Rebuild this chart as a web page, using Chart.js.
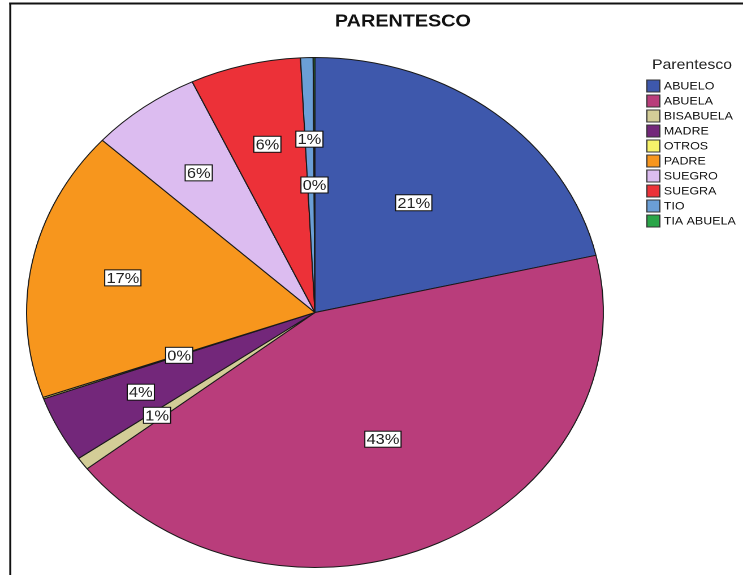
<!DOCTYPE html>
<html><head><meta charset="utf-8">
<script src="https://cdn.jsdelivr.net/npm/chart.js@4.4.1/dist/chart.umd.min.js"></script>
<style>
html,body{margin:0;padding:0;background:#fff;overflow:hidden}
#wrap{position:absolute;left:0;top:0;width:657px;height:575px;transform:scaleX(1.1309);transform-origin:0 0}
</style></head><body>
<div id="wrap"><canvas id="c" width="657" height="575"></canvas></div>
<script>
const chartTitle = 'PARENTESCO';
const legendTitle = 'Parentesco';
const categories = ['ABUELO','ABUELA','BISABUELA','MADRE','OTROS','PADRE','SUEGRO','SUEGRA','TIO','TIA ABUELA'];
const values = [21.4, 43.1, 0.8, 4.2, 0.1, 17.2, 6.2, 6.2, 0.7, 0.1];
const colors = ['#3e58ac','#b93d7b','#d3cd97','#73277a','#f8f36a','#f7961d','#dcbcf0','#ec3138','#6b9fd6','#2aa548'];

const FONT = '"Liberation Sans", Arial, Helvetica, sans-serif';

const overlay = {
  id: 'overlay',
  afterDraw(chart) {
    const ctx = chart.ctx;
    const meta = chart.getDatasetMeta(0);
    const total = values.reduce((a, b) => a + b, 0);
    ctx.save();
    // frame
    ctx.fillStyle = '#111';
    ctx.fillRect(8.2, 2.5, 1.8, chart.height);
    ctx.fillRect(8.2, 2.5, chart.width, 2);
    // title
    ctx.font = 'bold 17.5px ' + FONT;
    ctx.textAlign = 'center';
    ctx.textBaseline = 'middle';
    ctx.fillStyle = '#111';
    ctx.fillText(chartTitle, 356.3, 21.5);
    // slice labels
    ctx.font = '14.5px ' + FONT;
    meta.data.forEach((arc, i) => {
      const pct = values[i] / total * 100;
      const f = pct < 0.5 ? 0.5 : (pct >= 20 ? 0.55 : 0.68);
      const mid = (arc.startAngle + arc.endAngle) / 2;
      const x = arc.x + Math.cos(mid) * arc.outerRadius * f;
      const y = arc.y + Math.sin(mid) * arc.outerRadius * f;
      const t = Math.round(pct) + '%';
      const w = ctx.measureText(t).width + 3;
      const h = 16;
      ctx.fillStyle = '#fff';
      ctx.fillRect(x - w / 2, y - h / 2, w, h);
      ctx.strokeStyle = '#111';
      ctx.lineWidth = 1;
      ctx.strokeRect(x - w / 2, y - h / 2, w, h);
      ctx.fillStyle = '#222';
      ctx.fillText(t, x, y + 1);
    });
    // legend
    ctx.textAlign = 'left';
    ctx.font = '14px ' + FONT;
    ctx.fillStyle = '#222';
    ctx.fillText(legendTitle, 576.5, 65);
    ctx.font = '11px ' + FONT;
    categories.forEach((c, i) => {
      const yc = 86 + 15 * i;
      ctx.fillStyle = colors[i];
      ctx.fillRect(572, yc - 6, 11.5, 12);
      ctx.strokeStyle = '#333';
      ctx.lineWidth = 1;
      ctx.strokeRect(572, yc - 6, 11.5, 12);
      ctx.fillStyle = '#111';
      ctx.fillText(c, 587, yc + 0.5);
    });
    ctx.restore();
  }
};

new Chart(document.getElementById('c'), {
  type: 'pie',
  data: {
    labels: categories,
    datasets: [{
      data: values,
      backgroundColor: colors,
      borderColor: '#1a1a1a',
      borderWidth: 1
    }]
  },
  options: {
    responsive: false,
    devicePixelRatio: 2,
    animation: false,
    layout: { padding: { left: 23, top: 57, right: 123, bottom: 7 } },
    plugins: {
      legend: { display: false },
      title: { display: false },
      tooltip: { enabled: false }
    }
  },
  plugins: [overlay]
});
</script>
</body></html>
